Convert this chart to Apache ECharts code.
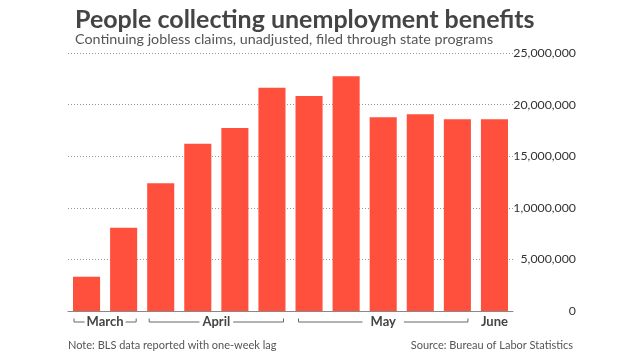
<!DOCTYPE html>
<html>
<head>
<meta charset="utf-8">
<script src="https://cdn.jsdelivr.net/npm/echarts@6/dist/echarts.min.js"></script>
<style>
html,body{margin:0;padding:0;background:#fff;}
#c{width:640px;height:360px;}
</style>
</head>
<body>
<div id="c"></div>
<script>
const categories = ['Mar 21','Mar 28','Apr 4','Apr 11','Apr 18','Apr 25','May 2','May 9','May 16','May 23','May 30','Jun 6'];
const claims = [3320000, 8070000, 12370000, 16210000, 17730000, 21640000, 20830000, 22740000, 18770000, 19060000, 18580000, 18580000];
const yTickLabels = ['0','5,000,000','1,0000,000','15,000,000','20,000,000','25,000,000'];
const monthLabels = ['March','April','May','June'];
const monthStart = [0, 2, 6, 11];
const monthEnd = [1, 5, 10, 11];

const FONT = 'Lato, "Open Sans", sans-serif';
const chart = echarts.init(document.getElementById('c'), null, {renderer:'canvas'});

const option = {
  animation: false,
  backgroundColor: '#fff',
  title: [
    {text: 'People collecting unemployment benefits', left: 70, top: 2,
     textStyle: {fontFamily: FONT, fontSize: 25, fontWeight: 'bold', color: '#444'}},
    {text: 'Continuing jobless claims, unadjusted, filed through state programs', left: 70, top: 27,
     textStyle: {fontFamily: FONT, fontSize: 14.3, fontWeight: 'normal', color: '#555'}},
    {text: 'Note: BLS data reported with one-week lag', left: 63, top: 335,
     textStyle: {fontFamily: FONT, fontSize: 11, fontWeight: 'normal', color: '#555'}},
    {text: 'Source: Bureau of Labor Statistics', right: 62, top: 335,
     textStyle: {fontFamily: FONT, fontSize: 11, fontWeight: 'normal', color: '#555'}}
  ],
  grid: {left: 68, right: 127, top: 53, bottom: 49, containLabel: false},
  xAxis: {
    type: 'category', data: categories,
    axisLine: {show: true, lineStyle: {color: '#888', width: 1}},
    axisTick: {show: false},
    axisLabel: {show: false},
    splitLine: {show: false}
  },
  yAxis: {
    type: 'value', position: 'right', min: 0, max: 25000000, interval: 5000000,
    axisLine: {show: false}, axisTick: {show: false},
    axisLabel: {
      align: 'right', margin: 63, color: '#333', fontFamily: FONT, fontSize: 12.3,
      formatter: function (v) { return yTickLabels[Math.round(v / 5000000)]; }
    },
    splitLine: {show: true, lineStyle: {color: '#999', type: [1, 2], width: 1}}
  },
  series: [{
    type: 'bar', data: claims, barWidth: '73%',
    itemStyle: {color: '#ff503d'},
    emphasis: {disabled: true}
  }]
};
chart.setOption(option);

// Month brackets positioned through the category axis scale
const ctx = document.createElement('canvas').getContext('2d');
const monthFontSize = 13;
ctx.font = 'bold ' + monthFontSize + 'px ' + FONT;
const px = i => chart.convertToPixel({xAxisIndex: 0}, categories[i]);
const catW = px(1) - px(0);
const baseY = chart.convertToPixel({yAxisIndex: 0}, 0);
const by = baseY + 11;
const insets = [6, 7, 8, 0];
const gaps = [2, 3, 8, 0];
const els = [];
const ls = {stroke: '#666', lineWidth: 1};
for (let m = 0; m < monthLabels.length; m++) {
  const cx = (px(monthStart[m]) + px(monthEnd[m])) / 2;
  els.push({type: 'text', x: cx, y: by, style: {text: monthLabels[m], align: 'center', verticalAlign: 'middle',
    fontFamily: FONT, fontSize: monthFontSize, fontWeight: 'bold', fill: '#444'}});
  if (monthStart[m] === monthEnd[m]) continue;
  const l = px(monthStart[m]) - catW / 2 + insets[m];
  const r = px(monthEnd[m]) + catW / 2 - insets[m];
  const tw = ctx.measureText(monthLabels[m]).width;
  const t1 = cx - tw / 2 - gaps[m], t2 = cx + tw / 2 + gaps[m];
  els.push({type: 'line', shape: {x1: l, y1: by, x2: t1, y2: by}, style: ls});
  els.push({type: 'line', shape: {x1: t2, y1: by, x2: r, y2: by}, style: ls});
  els.push({type: 'line', shape: {x1: l, y1: by - 3.5, x2: l, y2: by}, style: ls});
  els.push({type: 'line', shape: {x1: r, y1: by - 3.5, x2: r, y2: by}, style: ls});
}
chart.setOption({graphic: {elements: els}});
</script>
</body>
</html>
